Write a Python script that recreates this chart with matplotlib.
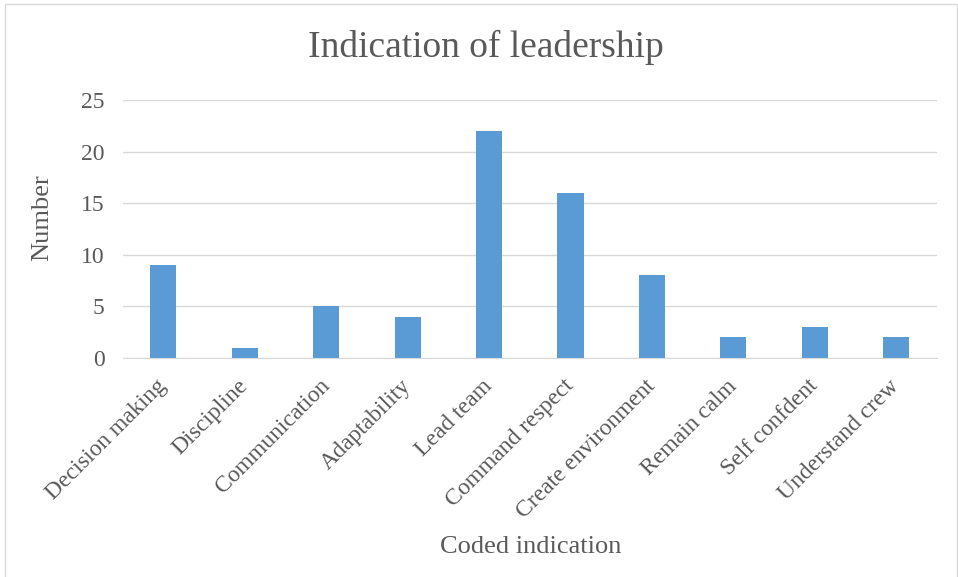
import numpy as np
import matplotlib.pyplot as plt
import matplotlib.transforms as mtrans
from matplotlib.patches import Rectangle

plt.rcParams['font.family'] = ['Liberation Serif', 'DejaVu Serif']

categories = ['Decision making', 'Discipline', 'Communication', 'Adaptability',
              'Lead team', 'Command respect', 'Create environment',
              'Remain calm', 'Self confdent', 'Understand crew']
counts = [9, 1, 5, 4, 22, 16, 8, 2, 3, 2]

txt = '#595959'
fig = plt.figure(figsize=(9.58, 5.77), dpi=100)
ax = fig.add_axes([0.128, 0.3795, 0.85, 0.4472])

x = np.arange(len(categories))
ax.bar(x, counts, width=0.32, color='#5b9bd5', zorder=2)
ax.set_xlim(-0.5, len(categories) - 0.5)
ax.set_ylim(0, 25)
ax.set_yticks(range(0, 26, 5))
ax.yaxis.grid(True, color='#d9d9d9', linewidth=1, zorder=0)
ax.set_xticks(x)
ax.set_xticklabels(categories, rotation=45, ha='right', va='center',
                   rotation_mode='anchor', fontsize=17, color=txt)
shift = mtrans.ScaledTranslation(9 / 100, 0, fig.dpi_scale_trans)
for lbl in ax.get_xticklabels():
    lbl.set_transform(lbl.get_transform() + shift)
for lbl in ax.get_yticklabels():
    lbl.set_fontsize(17)
    lbl.set_color(txt)
ax.tick_params(axis='both', length=0)
ax.tick_params(axis='y', pad=13)
ax.tick_params(axis='x', pad=18)
for s in ['top', 'right', 'left']:
    ax.spines[s].set_visible(False)
ax.spines['bottom'].set_color('#d9d9d9')
ax.spines['bottom'].set_zorder(3)

fig.text(42 / 958, 1 - 218 / 577, 'Number', fontsize=19, color=txt,
         rotation=90, ha='center', va='center')
fig.text(0.554, 0.052, 'Coded indication', fontsize=19, color=txt, ha='center', va='center')
fig.text(0.507, 0.918, 'Indication of leadership', fontsize=27, color=txt, ha='center', va='center')

fig.patches.append(Rectangle((5 / 958, -0.1), 1 - 6 / 958, 1.1 - 4 / 577,
                             transform=fig.transFigure, fill=False,
                             edgecolor='#d9d9d9', linewidth=1))

plt.savefig('out.png', dpi=100)
